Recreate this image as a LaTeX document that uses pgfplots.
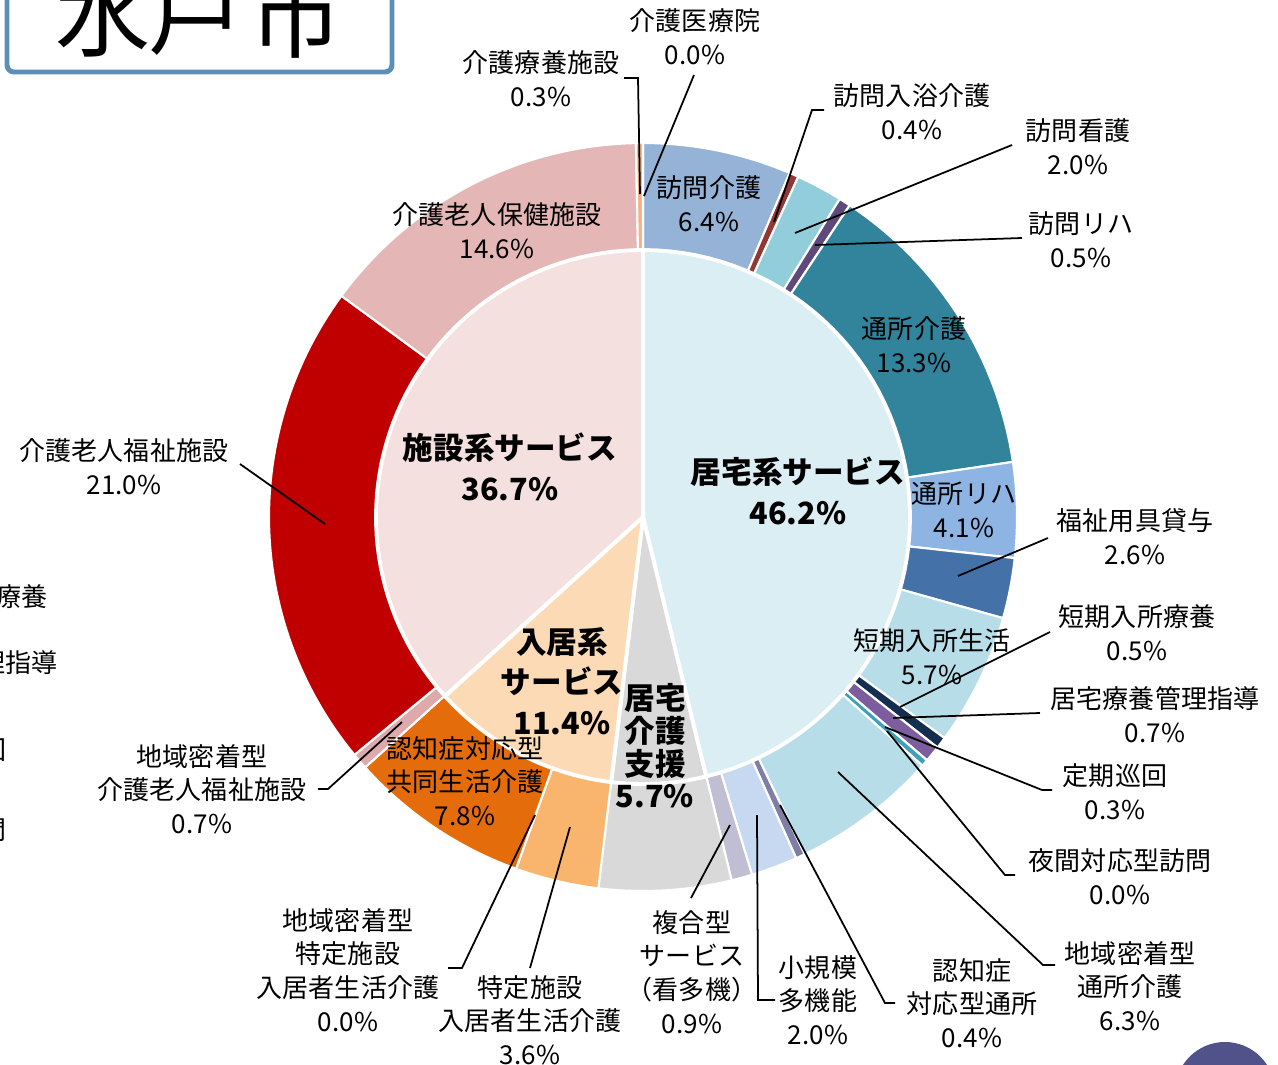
\documentclass[border=0pt]{standalone}
\usepackage{pgfplots}
\pgfplotsset{compat=1.18}
\usepackage{pgfplotstable}
\usepackage{fontspec}
\setmainfont{Noto Sans CJK JP}
\definecolor{o1}{HTML}{95B3D7}
\definecolor{o2}{HTML}{943634}
\definecolor{o3}{HTML}{92CDDC}
\definecolor{o4}{HTML}{5F497A}
\definecolor{o5}{HTML}{31849B}
\definecolor{o6}{HTML}{8DB4E2}
\definecolor{o7}{HTML}{4472A8}
\definecolor{o8}{HTML}{B7DEE8}
\definecolor{o9}{HTML}{142E4F}
\definecolor{o10}{HTML}{7C5E9E}
\definecolor{o11}{HTML}{3FA0B8}
\definecolor{o12}{HTML}{4BACC6}
\definecolor{o13}{HTML}{B7DEE8}
\definecolor{o14}{HTML}{7F7FA6}
\definecolor{o15}{HTML}{C6D9F1}
\definecolor{o16}{HTML}{BFBED2}
\definecolor{o17}{HTML}{D9D9D9}
\definecolor{o18}{HTML}{F9B56E}
\definecolor{o19}{HTML}{F9B56E}
\definecolor{o20}{HTML}{E46C0A}
\definecolor{o21}{HTML}{DDA9AA}
\definecolor{o22}{HTML}{C00000}
\definecolor{o23}{HTML}{E4B6B6}
\definecolor{o24}{HTML}{F4B183}
\definecolor{o25}{HTML}{F4B183}
\definecolor{i1}{HTML}{DBEEF4}
\definecolor{i2}{HTML}{D9D9D9}
\definecolor{i3}{HTML}{FDDAB6}
\definecolor{i4}{HTML}{F5E0E0}
\definecolor{framec}{HTML}{5B8FB8}
\definecolor{dotc}{HTML}{52528A}

\pgfplotstableread[col sep=comma]{
val,col
6.4,o1
0.4,o2
2.0,o3
0.5,o4
13.3,o5
4.1,o6
2.6,o7
5.7,o8
0.5,o9
0.7,o10
0.3,o11
0.0,o12
6.3,o13
0.4,o14
2.0,o15
0.9,o16
5.7,o17
3.6,o18
0.0,o19
7.8,o20
0.7,o21
21.0,o22
14.6,o23
0.3,o24
0.0,o25
}\outerdata

\pgfplotstableread[col sep=comma]{
val,col
46.2,i1
5.7,i2
11.4,i3
36.7,i4
}\innerdata

\newcommand\drawring[3]{%
  \pgfplotstablegetrowsof{#1}\pgfmathtruncatemacro\myN{\pgfplotsretval-1}%
  \xdef\mytot{0}%
  \foreach \i in {0,...,\myN}{\pgfplotstablegetelem{\i}{val}\of{#1}\pgfmathsetmacro\mys{\mytot+\pgfplotsretval}\xdef\mytot{\mys}}%
  \xdef\myacc{0}%
  \foreach \i in {0,...,\myN}{%
    \pgfplotstablegetelem{\i}{val}\of{#1}\let\myv\pgfplotsretval
    \pgfplotstablegetelem{\i}{col}\of{#1}\let\myc\pgfplotsretval
    \pgfmathsetmacro\mya{-90+360*(\myacc/\mytot)}%
    \pgfmathsetmacro\myn{\myacc+\myv}\xdef\myacc{\myn}%
    \pgfmathsetmacro\myb{-90+360*(\myacc/\mytot)}%
    \ifdim\myv pt>0pt
      \edef\temp{\noexpand\addplot[fill=\myc, draw=white, line width=#3, domain=\mya:\myb, samples=60, variable=\noexpand\t] ({643+#2*cos(\noexpand\t)},{517+#2*sin(\noexpand\t)}) -- (643,517) -- cycle;}%
      \temp
    \fi
  }%
}
\newcommand\lbl{\fontsize{7.4}{9.6}\selectfont}
\newcommand\blbl{\fontsize{8.7}{11.6}\selectfont\bfseries}

\begin{document}
\begin{tikzpicture}
\useasboundingbox (0,0) rectangle (12.78cm,10.65cm);
\clip (0,0) rectangle (12.78cm,10.65cm);
\begin{axis}[at={(0,0)}, anchor=south west, scale only axis, width=12.78cm, height=10.65cm,
  xmin=0, xmax=1278, ymin=0, ymax=1065, y dir=reverse, hide axis, clip=false]
\drawring{\outerdata}{374}{0.6pt}
\drawring{\innerdata}{267}{1.1pt}

% leader lines
\begin{scope}[line width=0.5pt, black]
\draw (694,75) -- (644,196);
\draw (624,78) -- (638,78) -- (640,194);
\draw (824,110) -- (812,110) -- (774,222);
\draw (1012,145) -- (795,233);
\draw (1022,238) -- (815,245);
\draw (1048,538) -- (958,576);
\draw (1050,632) -- (900,707);
\draw (1040,713) -- (893,718);
\draw (1052,790) -- (1042,790) -- (885,727);
\draw (1015,875) -- (1005,875) -- (887,731);
\draw (1055,965) -- (1043,965) -- (838,772);
\draw (895,1003) -- (885,1003) -- (780,805);
\draw (775,1000) -- (758,1000) -- (757,815);
\draw (691,898) -- (730,825);
\draw (530,968) -- (570,827);
\draw (448,968) -- (462,968) -- (535,815);
\draw (318,789) -- (328,789) -- (402,722);
\draw (240,464) -- (325,524);
\end{scope}

% outer labels
\begin{scope}[every node/.style={align=center, inner sep=0pt, font=\lbl}]
\node at (695,37) {介護医療院\\0.0\%};
\node at (541,79) {介護療養施設\\0.3\%};
\node at (912,112) {訪問入浴介護\\0.4\%};
\node at (1078,147) {訪問看護\\2.0\%};
\node at (1081,240) {訪問リハ\\0.5\%};
\node at (1135,537) {福祉用具貸与\\2.6\%};
\node at (1137,633) {短期入所療養\\0.5\%};
\node at (1155,715) {居宅療養管理指導\\0.7\%};
\node at (1115,792) {定期巡回\\0.3\%};
\node at (1120,877) {夜間対応型訪問\\0.0\%};
\node at (1130,986) {地域密着型\\通所介護\\6.3\%};
\node at (972,1003) {認知症\\対応型通所\\0.4\%};
\node at (818,1000) {小規模\\多機能\\2.0\%};
\node at (692,972) {複合型\\サービス\\（看多機）\\0.9\%};
\node at (530,1020) {特定施設\\入居者生活介護\\3.6\%};
\node at (348,970) {地域密着型\\特定施設\\入居者生活介護\\0.0\%};
\node at (202,789) {地域密着型\\介護老人福祉施設\\0.7\%};
\node at (124,467) {介護老人福祉施設\\21.0\%};
\node at (709,204) {訪問介護\\6.4\%};
\node at (497,231) {介護老人保健施設\\14.6\%};
\node at (914,345) {通所介護\\13.3\%};
\node at (964,510) {通所リハ\\4.1\%};
\node at (932,657) {短期入所生活\\5.7\%};
\node at (465,781) {認知症対応型\\共同生活介護\\7.8\%};
\node[anchor=east] at (48,597) {所療養};
\node[anchor=east] at (58,663) {管理指導};
\node[anchor=east] at (7,750) {巡回};
\node[anchor=east] at (7,830) {訪問};
\end{scope}
\begin{scope}[every node/.style={align=center, inner sep=0pt, font=\blbl}]
\node at (510,467) {施設系サービス\\36.7\%};
\node at (798,491) {居宅系サービス\\46.2\%};
\node at (562,681) {入居系\\サービス\\11.4\%};
\node[font=\fontsize{8.7}{9.3}\selectfont\bfseries] at (655,746) {居宅\\介護\\支援\\5.7\%};
\end{scope}

% title box
\draw[framec, line width=1.4pt, rounded corners=2pt] (7,-30) rectangle (392,72);
\node[font=\fontsize{27}{27}\selectfont, inner sep=0pt] at (103,14) {水};
\node[font=\fontsize{27}{27}\selectfont, inner sep=0pt] at (196,14) {戸};
\node[font=\fontsize{27}{27}\selectfont, inner sep=0pt] at (296,14) {市};
\fill[dotc] (1225,1092) circle[radius=0.5cm];
\end{axis}
\end{tikzpicture}
\end{document}
